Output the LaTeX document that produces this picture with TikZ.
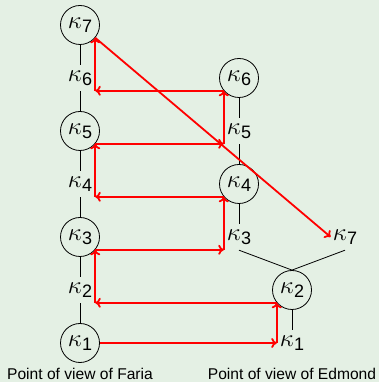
\documentclass[tikz,border=0pt]{standalone}
\usepackage{fontspec}
\setmainfont{Liberation Sans}
\usetikzlibrary{arrows.meta}
\definecolor{bg}{RGB}{228,240,228}
\newcommand{\kp}[1]{{\fontsize{24}{24}\selectfont$\kappa$}\kern0.3pt\raisebox{-4.5pt}{\fontsize{18}{18}\selectfont #1}}
\begin{document}
\begin{tikzpicture}[x=1pt,y=1pt,
  ring/.style={circle,draw,line width=0.8pt,minimum size=39pt,inner sep=0pt},
  lab/.style={inner sep=2pt,minimum height=26pt},
  link/.style={line width=0.8pt},
  flow/.style={red,line width=1.8pt,-{To[length=5.5pt,width=10pt]}},
  captxt/.style={anchor=base,font=\fontsize{15.6}{18}\selectfont,inner sep=0pt}]
\fill[bg] (0,0) rectangle (379,382);
\useasboundingbox (0,0) rectangle (379,382);
% left column
\node[ring] (L7) at (80,357) {\kp{7}};
\node[lab]  (L6) at (80,304) {\kp{6}};
\node[ring] (L5) at (80,251) {\kp{5}};
\node[lab]  (L4) at (80,198) {\kp{4}};
\node[ring] (L3) at (80,145) {\kp{3}};
\node[lab]  (L2) at (80,92)  {\kp{2}};
\node[ring] (L1) at (80,39)  {\kp{1}};
% right column
\node[ring] (R6) at (239,304) {\kp{6}};
\node[lab]  (R5) at (239,251) {\kp{5}};
\node[ring] (R4) at (239,198) {\kp{4}};
\node[lab]  (R3) at (239,145) {\kp{3}};
\node[lab]  (R7) at (345,145) {\kp{7}};
\node[ring] (R2) at (292,92)  {\kp{2}};
\node[lab]  (R1) at (292,39)  {\kp{1}};
% captions
\node[captxt] (cf) at (80,2) {Point of view of Faria};
\node[captxt] (ce) at (292,2) {Point of view of Edmond};
% black links
\draw[link] (L7) -- (L6);
\draw[link] (L6) -- (L5);
\draw[link] (L5) -- (L4);
\draw[link] (L4) -- (L3);
\draw[link] (L3) -- (L2);
\draw[link] (L2) -- (L1);
\draw[link] (R6) -- (R5);
\draw[link] (R5) -- (R4);
\draw[link] (R4) -- (R3);
\draw[link] (R3.south) -- (R2.north);
\draw[link] (R7.south) -- (R2.north);
\draw[link] (R2) -- (R1);
% red flow
\coordinate (c1) at (R2.220 |- R1);
\draw[flow] (L1) -- (c1);
\draw[flow] (c1) -- (R2.220);
\coordinate (c2) at (L3.320 |- R2.220);
\draw[flow] (R2.220) -- (c2);
\draw[flow] (c2) -- (L3.320);
\coordinate (c3) at (R4.220 |- L3.320);
\draw[flow] (L3.320) -- (c3);
\draw[flow] (c3) -- (R4.220);
\coordinate (c4) at (L5.320 |- R4.220);
\draw[flow] (R4.220) -- (c4);
\draw[flow] (c4) -- (L5.320);
\coordinate (c5) at (R6.220 |- L5.320);
\draw[flow] (L5.320) -- (c5);
\draw[flow] (c5) -- (R6.220);
\coordinate (c6) at (L7.320 |- R6.220);
\draw[flow] (R6.220) -- (c6);
\draw[flow] (c6) -- (L7.320);
\draw[flow] (L7.320) -- (R7.west);
\end{tikzpicture}
\end{document}
